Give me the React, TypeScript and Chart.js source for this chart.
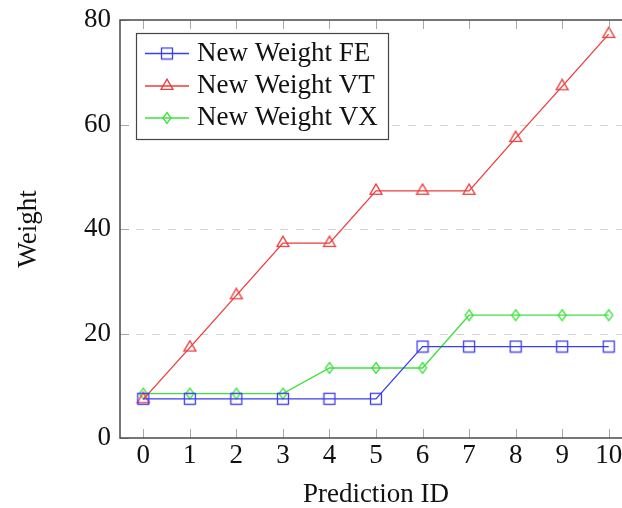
import React, { useEffect, useRef } from "react";
import { Chart, registerables } from "chart.js";

Chart.register(...registerables);

const categories = ["0", "1", "2", "3", "4", "5", "6", "7", "8", "9", "10"];
const feValues = [7.5, 7.5, 7.5, 7.5, 7.5, 7.5, 17.5, 17.5, 17.5, 17.5, 17.5];
const vtValues = [7.4, 17.3, 27.3, 37.3, 37.3, 47.3, 47.3, 47.3, 57.4, 67.3, 77.3];
const vxValues = [8.5, 8.5, 8.5, 8.5, 13.4, 13.4, 13.4, 23.5, 23.5, 23.5, 23.5];
const yTicks = [0, 20, 40, 60, 80];
const gridValues = [20, 40, 60];
const seriesNames = ["New Weight FE", "New Weight VT", "New Weight VX"];

const BLUE = "#3c3cf0";
const RED = "#ee3b3b";
const GREEN = "#3ee23e";
const FONT = "'Liberation Serif', 'Times New Roman', serif";
const FS = 27;

function makeSquare(color: string) {
  const c = document.createElement("canvas");
  c.width = 14;
  c.height = 14;
  const g = c.getContext("2d")!;
  g.strokeStyle = color;
  g.lineWidth = 1.3;
  g.strokeRect(1.5, 1.5, 11, 11);
  return c;
}
function makeTriangle(color: string) {
  const c = document.createElement("canvas");
  c.width = 16;
  c.height = 16;
  const g = c.getContext("2d")!;
  const R = 6.9;
  g.strokeStyle = color;
  g.lineWidth = 1.3;
  g.beginPath();
  g.moveTo(8, 8 - R);
  g.lineTo(8 + R * 0.866, 8 + R / 2);
  g.lineTo(8 - R * 0.866, 8 + R / 2);
  g.closePath();
  g.stroke();
  return c;
}
function makeDiamond(color: string) {
  const c = document.createElement("canvas");
  c.width = 12;
  c.height = 14;
  const g = c.getContext("2d")!;
  g.strokeStyle = color;
  g.lineWidth = 1.3;
  g.beginPath();
  g.moveTo(6, 1.5);
  g.lineTo(10, 7);
  g.lineTo(6, 12.5);
  g.lineTo(2, 7);
  g.closePath();
  g.stroke();
  return c;
}

export default function App() {
  const ref = useRef<HTMLCanvasElement | null>(null);

  useEffect(() => {
    if (!ref.current) return;
    const markers = [makeSquare(BLUE), makeTriangle(RED), makeDiamond(GREEN)];
    const colors = [BLUE, RED, GREEN];

    const gridPlugin = {
      id: "gridPlugin",
      beforeDatasetsDraw(chart: any) {
        const { ctx, chartArea, scales } = chart;
        const { left, right } = chartArea;
        ctx.save();
        ctx.strokeStyle = "#d4d4d4";
        ctx.lineWidth = 1;
        ctx.setLineDash([8, 8]);
        gridValues.forEach((v) => {
          const py = Math.round(scales.y.getPixelForValue(v)) + 0.5;
          ctx.beginPath();
          ctx.moveTo(left, py);
          ctx.lineTo(right, py);
          ctx.stroke();
        });
        ctx.restore();
      },
      afterDraw(chart: any) {
        const { ctx, chartArea, scales } = chart;
        const { left, right, top, bottom } = chartArea;
        ctx.save();
        ctx.strokeStyle = "#a8a8a8";
        ctx.lineWidth = 1;
        const tl = 9;
        categories.forEach((_, i) => {
          const px = Math.round(scales.x.getPixelForValue(i)) + 0.5;
          ctx.beginPath();
          ctx.moveTo(px, bottom);
          ctx.lineTo(px, bottom - tl);
          ctx.moveTo(px, top);
          ctx.lineTo(px, top + tl);
          ctx.stroke();
        });
        yTicks.forEach((v) => {
          const py = Math.round(scales.y.getPixelForValue(v)) + 0.5;
          ctx.beginPath();
          ctx.moveTo(left, py);
          ctx.lineTo(left + tl, py);
          ctx.moveTo(right, py);
          ctx.lineTo(right - tl, py);
          ctx.stroke();
        });
        // frame
        ctx.strokeStyle = "#4a4a4a";
        ctx.lineWidth = 1.5;
        ctx.strokeRect(left, top, right - left, bottom - top);

        // legend
        const bx = 136.5;
        const by = 33.5;
        const bw = 252;
        const bh = 106;
        ctx.fillStyle = "#ffffff";
        ctx.fillRect(bx, by, bw, bh);
        ctx.strokeStyle = "#444444";
        ctx.lineWidth = 1.2;
        ctx.strokeRect(bx, by, bw, bh);
        const rows = [53.5, 86, 118];
        rows.forEach((ry, i) => {
          ctx.strokeStyle = colors[i];
          ctx.lineWidth = 1.3;
          ctx.beginPath();
          ctx.moveTo(145, ry);
          ctx.lineTo(189, ry);
          ctx.stroke();
          const m = markers[i];
          ctx.drawImage(m, 167 - m.width / 2, ry - m.height / 2);
          ctx.fillStyle = "#111111";
          ctx.font = `${FS}px ${FONT}`;
          ctx.textBaseline = "middle";
          ctx.textAlign = "left";
          ctx.fillText(seriesNames[i], 197, ry);
        });
        ctx.restore();
      },
    };

    const mk = (i: number, data: number[]) => ({
      label: seriesNames[i],
      data,
      borderColor: colors[i],
      backgroundColor: colors[i],
      borderWidth: 1.3,
      pointStyle: markers[i],
      pointRadius: 6,
      tension: 0,
      fill: false,
    });

    const chart = new Chart(ref.current, {
      type: "line",
      data: {
        labels: categories,
        datasets: [mk(0, feValues), mk(1, vtValues), mk(2, vxValues)],
      },
      options: {
        responsive: false,
        animation: false,
        events: [],
        layout: { padding: { top: 20, right: 8, left: 0, bottom: 0 } },
        plugins: {
          legend: { display: false },
          tooltip: { enabled: false },
        },
        scales: {
          x: {
            type: "category",
            offset: true,
            grid: { display: false, drawTicks: false },
            border: { display: false },
            ticks: {
              color: "#111",
              font: { family: FONT, size: FS },
              padding: 2,
              maxRotation: 0,
              autoSkip: false,
            },
            title: {
              display: true,
              text: "Prediction ID",
              color: "#111",
              font: { family: FONT, size: FS, lineHeight: 1 },
              padding: { top: 0, bottom: 0 },
            },
            afterFit: (s: any) => {
              s.height = 70;
              s.paddingLeft = 0;
              s.paddingRight = 0;
            },
          },
          y: {
            min: 0,
            max: 80,
            grid: { display: false, drawTicks: false },
            border: { display: false },
            ticks: {
              stepSize: 20,
              color: "#111",
              font: { family: FONT, size: FS },
              padding: 9,
            },
            title: {
              display: true,
              text: "Weight",
              color: "#111",
              font: { family: FONT, size: FS, lineHeight: 1 },
              padding: { top: 15, bottom: 0 },
            },
            afterFit: (s: any) => {
              s.width = 120;
              s.paddingTop = 0;
              s.paddingBottom = 0;
            },
          },
        },
      },
      plugins: [gridPlugin],
    });
    return () => chart.destroy();
  }, []);

  return (
    <div
      style={{
        position: "fixed",
        left: 0,
        top: 0,
        width: 622,
        height: 508,
        overflow: "hidden",
        background: "#fff",
      }}
    >
      <canvas ref={ref} width={640} height={508} style={{ display: "block" }} />
    </div>
  );
}
